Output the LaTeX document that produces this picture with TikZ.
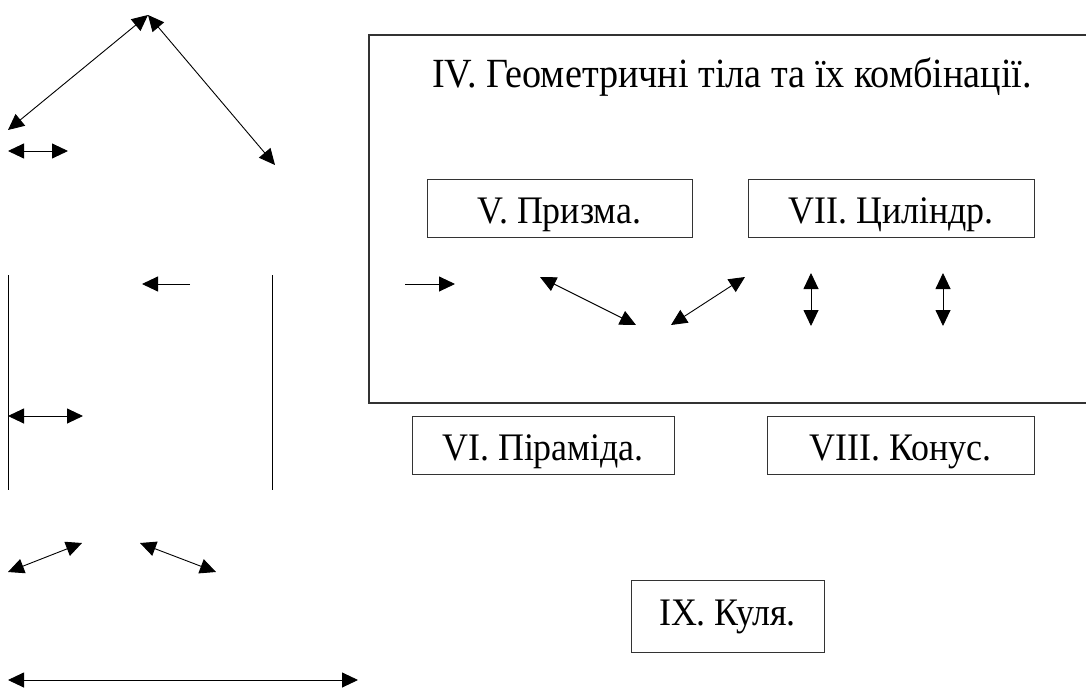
\documentclass[tikz,border=0pt]{standalone}
\usepackage{fontspec}
\setmainfont{Liberation Serif}[FakeStretch=0.92]
\usetikzlibrary{arrows.meta}
\tikzset{
  frame/.style={draw=black!80,line width=1.2pt},
  term/.style={draw=black!80,line width=1pt,inner sep=0pt,minimum height=58pt,
    text height=30pt,text depth=0pt,font=\fontsize{39}{44}\selectfont},
  link/.style={line width=0.9pt,-{Triangle[length=16pt,width=15pt]}},
  dlink/.style={line width=0.9pt,{Triangle[length=16pt,width=15pt]}-{Triangle[length=16pt,width=15pt]}},
  wall/.style={line width=1pt}
}

\begin{document}
\begin{tikzpicture}[x=1pt,y=-1pt]
  \clip (0,0) rectangle (1086,690);

  % Roof arrows
  \coordinate (apex) at (148,15);
  \coordinate (eaveL) at (8,130);
  \coordinate (eaveR) at (275,165);
  \draw[dlink] (apex)--(eaveL);
  \draw[dlink] (apex)--(eaveR);

  \coordinate (a1) at (8,151);
  \coordinate (a2) at (68,151);
  \draw[dlink] (a1)--(a2);

  % Walls
  \coordinate (wl1) at (8,275);
  \coordinate (wl2) at (8,490);
  \coordinate (wr1) at (272,275);
  \coordinate (wr2) at (272,490);
  \draw[wall] (wl1)--(wl2);
  \draw[wall] (wr1)--(wr2);

  \coordinate (b1) at (190,284);
  \coordinate (b2) at (142,284);
  \draw[link] (b1)--(b2);

  \coordinate (c1) at (8,416);
  \coordinate (c2) at (83,416);
  \draw[dlink] (c1)--(c2);

  % Lower arrows
  \coordinate (d1) at (8,572);
  \coordinate (d2) at (82,543);
  \coordinate (e1) at (140,543);
  \coordinate (e2) at (216,572);
  \draw[dlink] (d1)--(d2);
  \draw[dlink] (e1)--(e2);

  \coordinate (f1) at (8,680);
  \coordinate (f2) at (358,680);
  \draw[dlink] (f1)--(f2);

  % Big frame and title
  \draw[frame] (369,35) rectangle (1100,403);
  \node[font=\fontsize{41.5}{46}\selectfont,anchor=base] (title) at (732,88)
    {IV. Геометричні тіла та їх комбінації.};

  % Boxes
  \node[term,minimum width=265pt] (prism) at (559.5,208) {V. Призма.};
  \node[term,minimum width=286pt] (cyl) at (891,208) {VII. Циліндр.};
  \node[term,minimum width=262pt] (pyr) at (543,445) {VI. Піраміда.};
  \node[term,minimum width=267pt] (cone) at (900.5,445) {VIII. Конус.};
  \node[term,minimum width=193pt,minimum height=72pt,text height=25pt,text depth=8pt]
    (ball) at (727.5,616.5) {IX. Куля.};

  % Arrows inside frame
  \coordinate (g1) at (405,284);
  \coordinate (g2) at (455,284);
  \draw[link] (g1)--(g2);

  \coordinate (h1) at (540,277);
  \coordinate (h2) at (636,325);
  \coordinate (k1) at (671,325);
  \coordinate (k2) at (745,277);
  \draw[dlink] (h1)--(h2);
  \draw[dlink] (k1)--(k2);

  \coordinate (m1) at (811,273);
  \coordinate (m2) at (811,326);
  \coordinate (n1) at (943,273);
  \coordinate (n2) at (943,326);
  \draw[dlink] (m1)--(m2);
  \draw[dlink] (n1)--(n2);
\end{tikzpicture}
\end{document}
